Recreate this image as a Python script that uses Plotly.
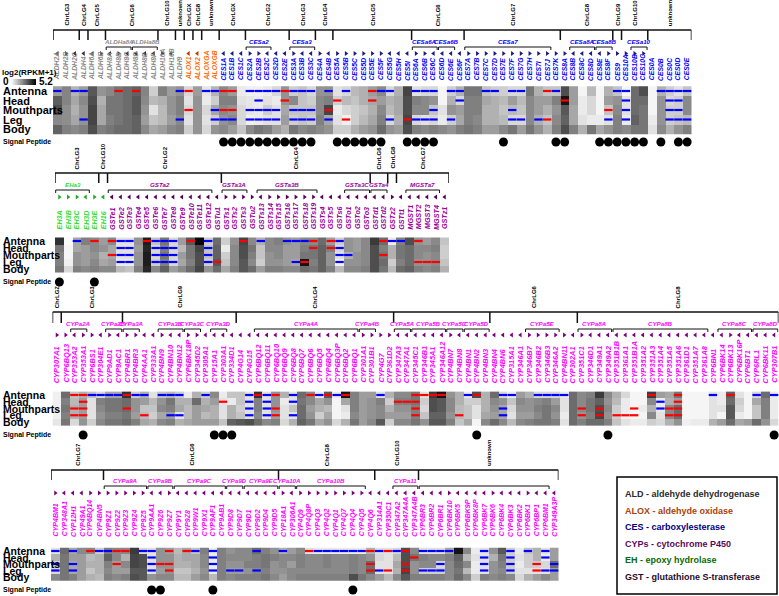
import plotly.graph_objects as go

W, H = 779, 596
ROWS = ["Antenna", "Head", "Mouthparts", "Leg", "Body"]
ZMAX = 5.2

# ---------------- Panel 1 : ALDH / ALOX / CES ----------------
P1_GENES = ["ALDH2A","ALDH2B","ALDH2C","ALDH4","ALDH6A","ALDH6B","ALDH8A","ALDH8B","ALDH8C","ALDH8D",
            "ALDH8E","ALDH8F","ALDH16A","ALDH16B","ALDH9","ALOX1","ALOX2","ALOXGA","ALOXGB",
            "CES1A","CES1B","CES1C","CES2A","CES2B","CES2C","CES2D","CES2E","CES3A","CES3B","CES3C",
            "CES4A","CES4B","CES5A","CES5B","CES5C","CES5D","CES5E","CES5F","CES5G","CES5H","CES5I",
            "CES6A","CES6B","CES6C","CES6D","CES6E","CES6F","CES7A","CES7B","CES7C","CES7D","CES7E",
            "CES7F","CES7G","CES7H","CES7I","CES7J","CES7K","CES8A","CES8B","CES8C","CES8D","CES8E",
            "CES8F","CES9","CES10A","CES10B","CES10C","CES0A","CES0B","CES0C","CES0D","CES0E"]
# per gene: Antenna, Head, Mouthparts, Leg, Body  (log2(RPKM+1))
P1_LEVELS = [
    [2.0,3.3,3.6,2.4,3.2],[2.5,2.5,2.3,2.3,2.6],[1.5,1.8,1.6,1.8,2.4],[2.0,2.4,2.2,2.2,2.6],
    [3.4,3.6,3.8,3.8,3.6],[2.2,1.6,1.8,1.8,2.6],[2.4,2.8,2.8,2.6,2.8],[2.8,2.8,2.8,2.8,3.0],
    [3.0,3.0,3.0,3.0,3.0],[3.2,3.4,3.4,3.2,3.2],[2.5,2.4,2.2,2.0,2.4],[1.0,1.4,0.6,1.2,1.8],
    [2.6,1.6,1.4,1.4,2.0],[2.0,2.2,2.2,2.0,2.4],[2.2,2.6,2.6,2.4,2.6],[0.8,0.6,0.8,0.6,1.0],
    [2.0,2.2,2.2,2.2,2.2],[0.5,0.4,0.8,0.6,0.8],[1.5,1.0,1.8,1.0,2.2],[2.4,2.6,2.4,2.2,2.4],
    [2.0,2.6,2.2,2.4,2.0],[0.4,0.6,0.8,0.8,1.2],[0.3,0.5,0.5,0.3,2.4],[0.3,0.4,0.4,0.4,2.8],
    [0.4,0.6,1.0,0.6,2.6],[0.8,0.4,0.6,0.6,2.0],[2.2,2.2,1.8,2.0,1.6],[1.0,2.4,1.2,1.0,2.8],
    [1.2,1.2,1.2,1.2,2.4],[0.8,1.0,1.2,1.0,2.6],[2.2,2.4,2.4,2.6,2.4],[2.2,2.6,3.8,1.8,2.2],
    [0.6,1.0,0.4,0.6,1.0],[0.8,1.4,0.8,0.3,1.0],[1.4,1.2,1.0,1.0,1.6],[1.6,1.6,1.2,1.4,2.0],
    [2.0,1.8,1.6,1.8,2.2],[2.4,2.0,2.4,2.6,3.0],[0.8,1.6,1.4,0.8,2.2],[1.6,1.8,1.8,1.6,2.0],
    [3.8,3.6,3.6,3.8,3.6],[0.6,2.6,2.4,0.8,2.6],[0.8,2.4,2.4,0.6,2.4],[0.8,2.2,1.2,0.8,2.6],
    [0.2,0.2,0.6,0.4,2.4],[1.0,1.6,2.2,1.0,2.2],[1.6,0.8,2.0,1.8,2.6],[2.8,2.6,2.6,2.6,2.8],
    [2.8,2.6,2.6,2.4,2.6],[1.2,1.8,1.6,1.6,2.0],[1.0,1.6,1.6,1.6,2.0],[1.0,1.4,1.2,1.4,2.4],
    [0.8,2.0,1.4,0.8,2.8],[0.8,1.4,1.2,0.8,2.0],[2.8,2.4,2.4,2.4,2.8],[1.6,2.0,2.0,1.6,2.2],
    [1.2,2.0,1.6,1.2,1.6],[1.2,2.6,2.2,2.4,2.6],[3.6,4.8,3.4,3.2,3.6],[2.0,2.0,1.8,1.8,2.6],
    [0.2,0.4,0.4,0.6,1.6],[1.4,0.8,0.8,0.4,2.8],[0.2,0.2,0.2,0.4,1.8],[1.6,2.0,1.2,0.6,2.2],
    [1.2,2.2,2.4,2.6,2.6],[0.2,0.6,0.6,0.4,2.4],[3.0,3.0,3.0,3.2,2.8],[3.6,3.0,2.8,2.8,2.8],
    [0.2,0.2,0.2,0.4,0.6],[1.6,2.2,2.2,2.2,2.4],[1.0,0.8,1.0,1.0,1.6],[0.6,1.0,1.0,1.2,2.2],
    [1.2,2.4,2.4,1.4,2.6]]
P1_RED = [[7,9,15,19,20,26,36,56],[26,32,36,58],[15,19,20,31,63],[33,40,56],[]]
P1_BLUE = [[0,2,3,14,17,18,22,23,24,25,27,28,29,31,33,37,38,41,42,43,45,46,49,50,52,53,57,64,65,69,70,71,72],
           [23,46,65,70,71],
           [18,22,23,24,25,27,28,29,43,52,65,70,71],
           [3,14,18,19,20,22,23,24,25,27,28,29,31,38,41,42,43,45,52,53,55,63,65,70,71,72],
           []]
P1_SIGNAL = [19,20,21,22,23,24,25,26,27,28,29,32,33,34,35,36,37,40,41,42,43,51,57,58,62,63,64,65,66,67,69,71,72]
P1_STRAND = ("<><<<><><<<<>< " "<<  " "<<<" ">><<<" "><<" "><" ">>>>>><<<" ">><<<<"
             ">>>>>>>>>>>" "><<<<>" ">" ">>>" "     ")
P1_CHROM = [(0,3,"ChrLG3"),(3,4,"ChrLG4"),(4,6,"ChrLG5"),(6,12,"ChrLG6"),(12,14,"ChrLG10"),
            (14,15,"unknown"),(15,16,"ChrLGX"),(16,17,"ChrLG8"),(17,19,"unknown"),(19,22,"ChrLGX"),
            (22,27,"ChrLG2"),(27,30,"ChrLG3"),(30,32,"ChrLG4"),(32,41,"ChrLG5"),(41,47,"ChrLG6"),
            (47,58,"ChrLG7"),(58,64,"ChrLG8"),(64,65,"ChrLG9"),(65,68,"ChrLG10"),(68,73,"unknown")]
P1_SUBFAM = [(6,8,"ALDHa8A"),(9,11,"ALDHa8B"),(22,24,"CESa2"),(27,29,"CESa3"),(41,43,"CESa6A"),
             (44,45,"CESa6B"),(47,56,"CESa7"),(59,61,"CESa8A"),(62,63,"CESa8B"),(66,67,"CESa10")]

# ---------------- Panel 2 : EH / GST ----------------
P2_GENES = ["EH3A","EH3B","EH3C","EH3D","EH3E","EH16","GSTe1","GSTe2","GSTe3","GSTe4","GSTe5","GSTe6",
            "GSTe7","GSTe8","GSTe9","GSTe10","GSTe11","GSTe12","GSTu1","GSTs1","GSTs2","GSTs3","GSTu2",
            "GSTs13","GSTs14","GSTs15","GSTs16","GSTs17","GSTs18","GSTs19","GSTs4","GSTs5","GSTs6",
            "GSTo1","GSTo2","GSTo3","GSTd1","GSTd2","GSTz2","GSTt1","MGST1","MGST2","MGST3","MGST4","GSTz1"]
P2_LEVELS = [
    [4.2,2.8,2.6,2.6,2.8],[0.1,0.2,0.2,0.3,0.8],[1.8,1.8,2.2,2.2,2.6],[2.6,2.0,2.0,2.0,2.4],
    [2.4,2.4,2.2,2.4,2.6],[2.0,2.2,1.6,1.8,2.4],[2.4,1.8,1.8,2.0,2.4],[0.6,0.6,0.6,0.4,1.4],
    [0.6,0.6,0.6,0.4,1.2],[2.2,2.0,2.2,2.2,2.6],[4.6,4.4,4.6,4.6,4.4],[1.2,0.8,0.8,1.0,2.4],
    [2.8,2.6,2.8,2.6,3.2],[0.8,0.8,0.8,0.8,2.0],[2.0,1.4,2.0,1.8,2.4],[3.4,2.8,2.8,2.6,3.0],
    [5.0,3.8,3.6,3.6,3.8],[1.0,1.2,1.2,1.0,2.2],[3.0,3.2,3.2,3.4,3.0],[1.0,0.4,1.0,1.2,1.8],
    [2.2,2.4,2.4,2.4,2.6],[3.8,3.6,3.6,3.4,3.4],[2.4,2.8,2.6,2.4,3.0],[1.6,1.2,1.2,1.0,2.0],
    [2.4,2.4,2.2,2.2,2.6],[2.6,2.4,2.4,2.2,2.6],[2.2,2.0,2.0,2.0,2.4],[2.0,2.0,2.0,1.8,2.4],
    [2.4,2.6,2.8,4.8,3.0],[2.4,2.8,2.8,2.6,2.8],[3.0,3.2,3.2,3.2,3.2],[2.0,2.6,2.2,2.2,2.6],
    [1.0,0.8,0.6,0.3,1.4],[2.2,2.2,1.6,2.2,2.4],[2.0,2.0,2.2,2.2,2.4],[2.4,2.4,2.4,2.4,2.6],
    [4.0,3.6,3.6,3.6,3.6],[3.0,2.6,2.8,3.0,2.8],[0.4,1.6,1.6,1.0,1.4],[2.6,2.8,2.8,2.6,3.0],
    [3.6,3.0,3.0,3.0,3.2],[2.2,2.4,2.4,2.2,2.6],[2.0,2.4,2.2,2.2,2.4],[2.4,2.6,2.4,2.4,2.6],
    [1.2,1.0,1.0,1.2,1.6]]
P2_RED = [[4,6,10,15,21,29,31,37,41],[29,31],[6,37],[18,28,41,42,43],[]]
P2_BLUE = [[2,7,8,11,12,13,17,23,26,27,28,32,38,39],[7,8,11,12,13,17,32],
           [7,8,11,12,13,17,32,33],[7,8,11,12,13,17,27,32],[]]
P2_SIGNAL = [0, 4]
P2_STRAND = (">>><><" "<<<<<<<<<<<<" "<" ">>>" ">" "<>>>>>>" "<<<" "<<<" "<<" ">" "<" "<<<<" "<")
P2_CHROM = [(0,5,"ChrLG3"),(5,6,"ChrLG10"),(6,19,"ChrLG2"),(19,36,"ChrLG4"),(36,38,"ChrLG6"),
            (38,39,"ChrLG8"),(39,45,"ChrLG7")]
P2_SUBFAM = [(0,3,"EHa3"),(6,17,"GSTa2"),(19,21,"GSTa3A"),(23,29,"GSTa3B"),(33,35,"GSTa3C"),
             (36,37,"GSTa4"),(40,43,"MGSTa7")]

# ---------------- Panel 3 : CYP (part 1) ----------------
P3_GENES = ["CYP307A1","CYP6BQ13","CYP353A2","CYP353A1","CYP6BS1","CYP304E1","CYP9AD1","CYP9AC1",
            "CYP4BR1","CYP4BR3","CYP4AA1","CYP333A1","CYP4BN9","CYP4BN10","CYP4BN12","CYP6BK18P",
            "CYP345D2","CYP305A1","CYP15A1","CYP303A1","CYP334D1","CYP4G14","CYP4G15","CYP6BQ12",
            "CYP6BQ11","CYP6BQ10","CYP6BQ9","CYP6BQ8","CYP6BQ7","CYP6BQ6","CYP6BQ5","CYP6BQ4",
            "CYP6BQ3P","CYP6BQ2","CYP6BQ1","CYP301A1","CYP301B1","CYP4G7","CYP361D2","CYP347A3",
            "CYP347A1","CYP345C1","CYP346B1","CYP345A1","CYP346A12","CYP4BN7","CYP4BN8","CYP4BN1",
            "CYP4BN2","CYP4BN3","CYP4BN4","CYP4BN6","CYP315A1","CYP346A1","CYP346B7","CYP346B2",
            "CYP346B3","CYP346A2","CYP4BN11","CYP302A1","CYP351C1","CYP346D1","CYP349A1","CYP349A2",
            "CYP351B1B","CYP361A1","CYP351B1A","CYP351A2","CYP351A3","CYP351A4","CYP351A5","CYP351A6",
            "CYP361D1","CYP351A7","CYP361A8","CYP6BN1","CYP6BK14","CYP6BK13","CYP6BK16P","CYP6BT1",
            "CYP6RL1","CYP6BK11","CYP307B1"]
P3_LEVELS = [
    [0.3,0.3,0.3,0.3,0.5],[3.0,2.6,2.8,2.6,2.8],[1.2,1.4,1.6,1.6,0.8],[1.6,2.0,2.0,2.0,2.2],
    [1.2,0.6,0.6,0.6,1.0],[0.8,2.6,2.4,2.2,2.4],[1.8,2.8,2.8,2.6,2.8],[1.8,2.8,2.8,2.6,2.8],
    [4.2,3.0,3.0,2.8,3.0],[1.0,2.2,2.2,2.0,2.6],[1.6,2.0,1.2,1.4,1.8],[0.6,1.4,1.2,1.0,1.6],
    [1.2,2.2,2.4,1.8,2.4],[1.4,2.8,2.6,2.0,2.6],[1.0,1.6,1.8,0.6,1.6],[0.4,1.6,1.4,1.4,1.8],
    [1.6,3.0,2.0,2.0,2.0],[1.0,1.6,1.8,1.4,2.0],[2.4,2.0,1.6,1.6,2.0],[0.4,0.6,0.6,0.6,1.2],
    [1.2,0.4,1.6,1.6,3.2],[1.2,1.2,1.0,1.2,3.4],[0.6,0.6,0.6,0.6,3.6],[4.2,2.6,2.6,2.4,3.0],
    [0.6,0.6,0.6,0.6,2.4],[2.2,2.2,2.2,2.0,2.6],[1.6,0.4,0.6,0.6,0.8],[0.6,0.6,1.2,0.6,1.6],
    [3.0,2.8,3.0,3.0,3.2],[2.4,2.4,2.0,2.2,2.8],[0.4,1.8,1.6,1.0,1.8],[3.4,2.2,1.4,1.8,2.2],
    [0.4,0.2,0.2,0.2,0.8],[4.8,1.8,0.6,0.4,1.6],[2.6,2.6,2.6,2.4,2.8],[2.0,2.0,2.0,2.0,2.0],
    [2.0,2.2,2.2,2.2,2.4],[0.6,2.6,2.4,2.4,3.4],[1.6,1.0,1.6,2.0,1.0],[2.4,2.6,2.2,2.0,2.4],
    [2.4,2.6,2.2,2.0,2.4],[2.8,2.8,2.6,2.6,2.8],[0.6,1.0,0.8,1.2,2.2],[4.0,3.6,3.6,3.2,3.4],
    [4.8,3.4,3.4,3.2,3.4],[2.2,2.4,2.4,2.2,2.6],[1.6,1.6,1.4,1.4,1.2],[0.4,1.0,1.2,1.2,1.8],
    [3.6,1.0,0.6,0.6,0.2],[1.6,1.6,1.6,1.8,2.4],[3.0,2.4,2.2,2.0,3.0],[0.8,2.2,1.8,1.8,2.4],
    [0.4,1.2,0.8,0.6,1.4],[2.0,2.4,2.2,2.0,2.4],[1.6,2.2,2.2,2.0,2.6],[0.8,2.4,2.6,2.4,2.8],
    [0.8,2.6,2.8,2.8,2.8],[0.8,2.0,2.4,2.2,2.6],[0.4,0.6,0.6,0.4,0.6],[3.0,3.0,3.0,3.0,3.0],
    [2.4,2.4,2.4,2.2,2.6],[2.6,2.8,2.8,2.6,3.0],[4.0,3.2,3.6,3.8,3.0],[2.4,2.2,2.4,2.2,2.6],
    [1.6,1.4,1.0,1.0,1.2],[0.8,0.4,0.4,0.3,0.6],[0.2,0.2,0.2,0.2,0.4],[0.2,0.2,0.4,0.2,0.4],
    [4.0,2.4,1.6,2.4,1.0],[2.0,0.4,0.4,0.6,0.8],[1.8,1.6,2.4,2.4,1.6],[2.8,2.0,3.0,3.0,2.2],
    [0.2,0.2,0.2,0.2,0.3],[0.2,0.2,0.2,0.2,0.4],[0.2,0.2,0.2,0.2,0.4],[0.6,0.6,0.6,0.6,1.6],
    [0.4,0.4,0.6,0.2,2.0],[3.2,3.0,3.4,3.4,3.0],[0.6,1.0,0.8,0.4,1.8],[0.2,0.2,0.2,0.2,2.0],
    [0.8,1.8,1.2,1.2,3.0],[3.0,2.6,2.6,2.6,2.2],[0.4,0.4,0.4,0.4,0.8]]
P3_RED = [[2,3,8,23,25,29,31,33,41,42,43,44,48,68,71,77],[3,19,39,40,41,71],
          [2,3,8,25,41,60,62,66,70,71],[2,3,10,25,41,46,60,62,64,65,66,70,71],[]]
P3_BLUE = [[4,5,6,7,9,10,12,13,14,17,22,24,27,30,32,37,47,51,52,55,56,57,58,75,80,82],
           [22,24,27,69],[22,24,51,69],[13,14,22,24,27,51],[]]
P3_SIGNAL = [3,18,19,20,48,63,82]
P3_STRAND = (">><>><><>><<><<>><<<<<<" "<<<<<<<<<<<<" ">>>>" "<<<<<<" ">" "<<<<<<" "<<" ">>>>>"
             "<" ">" "<<<<<<<<<<<<<<" "<<" ">" "<<<<<")
P3_CHROM = [(0,1,"ChrLGZ"),(1,8,"ChrLG3"),(8,21,"ChrLG9"),(21,39,"ChrLG4"),(39,50,""),
            (50,60,"ChrLG6"),(60,83,"ChrLG8")]
P3_SUBFAM = [(2,3,"CYPa2A"),(6,7,"CYPa2B"),(8,9,"CYPa3A"),(12,14,"CYPa3B"),(15,16,"CYPa3C"),
             (18,19,"CYPa3D"),(23,34,"CYPa4A"),(35,36,"CYPa4B"),(39,40,"CYPa5A"),(41,44,"CYPa5B"),
             (45,46,"CYPa5C"),(47,49,"CYPa5D"),(54,57,"CYPa5E"),(60,63,"CYPa8A"),(64,74,"CYPa8B"),
             (76,79,"CYPa8C"),(80,82,"CYPa8D")]

# ---------------- Panel 4 : CYP (part 2) ----------------
P4_GENES = ["CYP4BM1","CYP348A1","CYP12H1","CYP49A1","CYP6BQ14","CYP4BN5","CYP9Z1","CYP9Z2","CYP9Z3",
            "CYP9Z4","CYP9Z5","CYP9AA1","CYP9Z6","CYP9Z7","CYP9Y1","CYP9Z8","CYP9W1","CYP9X1","CYP9AF1",
            "CYP9AB1","CYP9D8","CYP9D7","CYP9D1","CYP9D2","CYP9D4","CYP9D5","CYP18A1","CYP306A1",
            "CYP4Q9","CYP4Q8P","CYP4Q3","CYP4Q2","CYP4Q1","CYP4Q7","CYP4Q4","CYP4Q5","CYP4Q6",
            "CYP314A1","CYP350C1","CYP347A2","CYP347A4A","CYP347A4B","CYP6BR3","CYP6BR2","CYP6BR1",
            "CYP6BK10","CYP6BK5","CYP6BK9P","CYP6BK8P","CYP6BK7","CYP6BK6","CYP6BK4","CYP6BK3",
            "CYP6BK2","CYP6BK1","CYP6BP1","CYP6BM1","CYP349A3P"]
P4_LEVELS = [
    [0.6,1.6,1.0,0.8,2.4],[3.0,2.8,2.8,2.8,2.8],[1.8,2.0,1.8,1.8,2.6],[2.4,2.0,2.0,2.0,2.0],
    [2.4,1.4,1.6,1.2,1.6],[1.0,1.6,1.6,1.6,1.4],[2.6,3.2,2.6,2.4,2.6],[2.4,2.4,2.0,2.0,2.4],
    [2.4,1.6,2.4,2.0,2.6],[4.0,3.8,3.8,3.4,3.6],[0.8,3.6,3.6,3.4,3.4],[0.6,0.6,0.6,0.6,2.2],
    [2.2,2.2,2.2,2.0,2.4],[2.0,2.2,2.2,2.2,2.4],[1.4,1.6,1.6,1.2,1.4],[1.8,1.8,1.6,1.2,1.4],
    [1.2,1.8,1.8,1.6,2.0],[2.6,2.4,2.4,2.2,2.4],[0.4,0.4,0.4,0.4,1.4],[2.6,2.6,2.6,2.6,2.6],
    [2.2,2.4,2.2,2.0,2.4],[2.4,2.4,2.2,2.0,2.6],[2.4,2.4,2.6,2.2,2.6],[3.0,2.6,2.6,2.4,2.6],
    [2.6,2.8,2.8,2.6,2.8],[2.2,2.6,2.2,2.2,2.4],[1.6,2.4,2.4,2.2,2.0],[2.0,2.4,2.0,2.4,2.4],
    [2.4,2.6,2.6,2.4,2.6],[0.6,2.4,2.4,2.4,2.6],[0.4,2.4,2.4,2.4,2.6],[0.4,2.6,2.6,2.4,2.6],
    [0.4,2.4,2.4,2.4,2.6],[0.4,2.4,2.4,2.4,2.6],[0.4,2.6,2.6,2.6,3.6],[0.4,2.4,2.4,2.4,2.8],
    [1.6,2.2,3.0,3.0,2.4],[0.6,0.8,0.6,0.6,2.0],[0.6,0.6,0.6,0.6,1.4],[0.8,1.4,1.8,1.6,2.4],
    [3.6,3.6,3.6,3.8,3.4],[2.4,2.8,2.2,2.2,2.6],[0.6,2.6,2.4,1.0,2.6],[0.6,2.4,2.4,1.0,2.6],
    [0.6,2.4,0.8,1.0,2.6],[1.8,2.6,2.4,2.4,2.4],[4.8,3.2,3.0,2.8,3.0],[2.4,1.4,2.4,1.4,2.4],
    [0.4,0.6,0.4,0.4,1.0],[0.6,0.6,0.6,0.6,2.6],[2.2,1.6,2.2,2.2,2.4],[3.4,2.8,2.6,2.4,2.6],
    [1.0,1.0,1.0,1.0,2.4],[0.4,0.6,0.4,0.6,0.8],[1.2,1.0,1.0,0.6,1.6],[1.6,1.6,1.0,0.6,2.0],
    [0.6,0.4,0.8,0.6,2.4],[2.0,2.0,3.0,2.0,2.0]]
P4_RED = [[4,7,8,13,15,29,36,38,40],[41],[7,12,13,36,40,55],[13,36,38,40,55],[]]
P4_BLUE = [[0,2,5,6,10,11,16,18,23,26,30,31,32,33,34,35,37,39,42,43,44,45,49,52,54,56],
           [11,18,49,52,56],[0,2,11,18,44,49,52,57],
           [0,2,11,18,20,21,23,37,42,43,44,49,52,56,57],[]]
P4_SIGNAL = [11,12,18,34]
P4_STRAND = (">" "<<<" ">>" ">>>>>" "<<" ">" "<<<<<<<<<" "<<<" ">" "<" ">>>>>>>>" "<<<<<<<<<"
             ">" "<<<<" ">" "<<<" ">" "<<<")
P4_CHROM = [(0,6,"ChrLG7"),(6,26,"ChrLG6"),(26,37,"ChrLG8"),(37,42,"ChrLG10"),(42,58,"unknown")]
P4_SUBFAM = [(6,10,"CYPa9A"),(11,13,"CYPa9B"),(14,19,"CYPa9C"),(20,21,"CYPa9D"),(22,25,"CYPa9E"),
             (26,27,"CYPa10A"),(28,35,"CYPa10B"),(39,41,"CYPa11"),(42,56,"")]

LEGEND_ITEMS = [("ALD", "aldehyde dehydrogenase", "#2b2b2b"),
                ("ALOX", "aldehyde oxidase", "#a8420c"),
                ("CES", "carboxylesterase", "#000080"),
                ("CYPs", "cytochrome P450", "#5a0a5a"),
                ("EH", "epoxy hydrolase", "#0a6a0a"),
                ("GST", "glutathione S-transferase", "#2a0a2a")]

# ---------------- styling / layout constants (pixels) ----------------
FAM_COLOR = {"ALDH": "#8a8a8a", "ALOX": "#ff6a00", "CES": "#0000ff", "EH": "#33dd33",
             "GST": "#990099", "CYP": "#ff00ff"}
ARROW_COLOR = {"ALDH": "#333333", "ALOX": "#cc3300", "CES": "#1a1a80", "EH": "#22aa22",
               "GST": "#550055", "CYP": "#7a007a"}
FONT = "Liberation Sans, Arial, sans-serif"

PANELS = [
    dict(genes=P1_GENES, levels=P1_LEVELS, red=P1_RED, blue=P1_BLUE, sp=P1_SIGNAL, strand=P1_STRAND,
         chrom=P1_CHROM, sub=P1_SUBFAM, x0=53, x1=691.5, line=30, tick=40, brk=47, arrow=53.5,
         lab=82.5, top=83, bot=137, spy=142, lsize=6.8, rsize=11),
    dict(genes=P2_GENES, levels=P2_LEVELS, red=P2_RED, blue=P2_BLUE, sp=P2_SIGNAL, strand=P2_STRAND,
         chrom=P2_CHROM, sub=P2_SUBFAM, x0=55, x1=449, line=173, tick=183, brk=190, arrow=197,
         lab=231.5, top=233, bot=277, spy=282, lsize=7.2, rsize=10.5),
    dict(genes=P3_GENES, levels=P3_LEVELS, red=P3_RED, blue=P3_BLUE, sp=P3_SIGNAL, strand=P3_STRAND,
         chrom=P3_CHROM, sub=P3_SUBFAM, x0=52.5, x1=778.5, line=312, tick=323, brk=329, arrow=335,
         lab=385, top=387, bot=430, spy=435, lsize=7.4, rsize=10.5),
    dict(genes=P4_GENES, levels=P4_LEVELS, red=P4_RED, blue=P4_BLUE, sp=P4_SIGNAL, strand=P4_STRAND,
         chrom=P4_CHROM, sub=P4_SUBFAM, x0=51, x1=558.5, line=470, tick=480, brk=486, arrow=493,
         lab=538.5, top=543, bot=585, spy=590, lsize=7.0, rsize=10.5),
]


def fx(px):
    return px / W


def fy(py):
    return 1 - py / H


def family(name):
    for key in ("ALDH", "ALOX", "CES", "EH", "CYP"):
        if name.startswith(key):
            return key
    return "GST"


fig = go.Figure()
shapes, annos = [], []
layout = {}

for p, P in enumerate(PANELS, start=1):
    xa = "x" if p == 1 else f"x{p}"
    ya = "y" if p == 1 else f"y{p}"
    yo = f"y{p + 4}"
    genes = P["genes"]
    n = len(genes)
    idx = list(range(n))
    z = [[P["levels"][g][r] for g in idx] for r in range(5)]

    hm = dict(z=z, x=idx, y=ROWS, colorscale=[[0, "#ffffff"], [1, "#000000"]], zmin=0, zmax=ZMAX,
              xaxis=xa, yaxis=ya, hoverinfo="skip", showscale=(p == 1))
    if p == 1:
        hm["colorbar"] = dict(orientation="h", x=fx(11), xanchor="left", y=fy(79), yanchor="top",
                              len=25, lenmode="pixels", thickness=6, thicknessmode="pixels",
                              showticklabels=False, ticks="", outlinewidth=0, xpad=0, ypad=0)
    fig.add_trace(go.Heatmap(**hm))

    # expression-change marks
    for marks, col in ((P["red"], "#ff0000"), (P["blue"], "#0000ff")):
        xs, ys = [], []
        for r, lst in enumerate(marks):
            for g in lst:
                xs.append(g)
                ys.append(ROWS[r])
        fig.add_trace(go.Scatter(x=xs, y=ys, mode="markers", xaxis=xa, yaxis=ya, hoverinfo="skip",
                                 marker=dict(symbol="line-ew", size=6, line=dict(width=2.2, color=col)),
                                 showlegend=False, cliponaxis=False))

    # strand arrows
    strand = (P["strand"] + " " * n)[:n]
    ax, ay, asym, acol = [], [], [], []
    for g, s in enumerate(strand):
        if s in "<>":
            ax.append(g)
            ay.append(P["arrow"])
            asym.append("triangle-right" if s == ">" else "triangle-left")
            acol.append(ARROW_COLOR[family(genes[g])])
    fig.add_trace(go.Scatter(x=ax, y=ay, mode="markers", xaxis=xa, yaxis=yo, hoverinfo="skip",
                             marker=dict(symbol=asym, size=4.5, color=acol, line=dict(width=0)),
                             showlegend=False, cliponaxis=False))
    # signal peptides
    fig.add_trace(go.Scatter(x=P["sp"], y=[P["spy"]] * len(P["sp"]), mode="markers", xaxis=xa,
                             yaxis=yo, hoverinfo="skip", showlegend=False, cliponaxis=False,
                             marker=dict(symbol="circle", size=9, color="#000000")))

    layout["xaxis" if p == 1 else f"xaxis{p}"] = dict(
        domain=[fx(P["x0"]), fx(P["x1"])], range=[-0.5, n - 0.5], anchor=ya, visible=False,
        fixedrange=True)
    layout["yaxis" if p == 1 else f"yaxis{p}"] = dict(
        domain=[fy(P["bot"]), fy(P["top"])], anchor=xa, autorange="reversed", visible=False,
        fixedrange=True)
    layout[f"yaxis{p + 4}"] = dict(domain=[0, 1], range=[H, 0], anchor=xa, visible=False,
                                   fixedrange=True)

    # chromosome line + ticks + labels
    shapes.append(dict(type="line", xref=xa, yref="paper", x0=-0.5, x1=n - 0.5,
                       y0=fy(P["line"]), y1=fy(P["line"]), line=dict(color="#111111", width=1.5)))
    bounds = sorted({s for s, e, _ in P["chrom"]} | {e for s, e, _ in P["chrom"]})
    for b in bounds:
        shapes.append(dict(type="line", xref=xa, yref="paper", x0=b - 0.5, x1=b - 0.5,
                           y0=fy(P["line"]), y1=fy(P["tick"]), line=dict(color="#111111", width=1.5)))
    for s, e, lab in P["chrom"]:
        if lab:
            annos.append(dict(x=(s + e - 1) / 2, y=fy(P["line"] - 2), xref=xa, yref="paper",
                              text=f"<b>{lab}</b>", textangle=-90, showarrow=False,
                              xanchor="center", yanchor="bottom",
                              font=dict(size=6, color="#000000", family=FONT)))
    # sub-family brackets
    for s, e, lab in P["sub"]:
        a, b = s - 0.42, e + 0.42
        yb, yb2 = fy(P["brk"]), fy(P["brk"] + 3)
        shapes.append(dict(type="path", xref=xa, yref="paper",
                           path=f"M {a},{yb2} L {a},{yb} L {b},{yb} L {b},{yb2}",
                           line=dict(color="#111111", width=1)))
        if lab:
            annos.append(dict(x=(s + e) / 2, y=fy(P["brk"] - 0.3), xref=xa, yref="paper",
                              text=f"<b><i>{lab}</i></b>", showarrow=False, xanchor="center",
                              yanchor="bottom",
                              font=dict(size=6.2, color=FAM_COLOR[family(lab.lstrip('M'))],
                                        family=FONT)))
    # gene labels
    for g, name in enumerate(genes):
        annos.append(dict(x=g, y=fy(P["lab"]), xref=xa, yref="paper", text=f"<b><i>{name}</i></b>",
                          textangle=-90, showarrow=False, xanchor="center", yanchor="bottom",
                          font=dict(size=P["lsize"], color=FAM_COLOR[family(name)], family=FONT)))
    # row labels
    for r, name in enumerate(ROWS):
        annos.append(dict(x=fx(1), y=r, xref="paper", yref=ya, text=f"<b>{name}</b>",
                          showarrow=False, xanchor="left", yanchor="middle",
                          font=dict(size=P["rsize"], color="#000000", family=FONT)))
    annos.append(dict(x=fx(1), y=fy(P["spy"]), xref="paper", yref="paper",
                      text="<b>Signal Peptide</b>", showarrow=False, xanchor="left",
                      yanchor="middle", font=dict(size=7, color="#000000", family=FONT)))

# colour-scale caption
annos.append(dict(x=fx(0), y=fy(73), xref="paper", yref="paper", text="<b>log2(RPKM+1)</b>",
                  showarrow=False, xanchor="left", yanchor="middle",
                  font=dict(size=8, color="#000000", family=FONT)))
annos.append(dict(x=fx(1), y=fy(82), xref="paper", yref="paper", text="<b>0</b>",
                  showarrow=False, xanchor="left", yanchor="middle",
                  font=dict(size=10, color="#000000", family=FONT)))
annos.append(dict(x=fx(37), y=fy(82), xref="paper", yref="paper", text=f"<b>{ZMAX}</b>",
                  showarrow=False, xanchor="left", yanchor="middle",
                  font=dict(size=10, color="#000000", family=FONT)))

# family legend box
shapes.append(dict(type="rect", xref="paper", yref="paper", x0=fx(617), x1=fx(777),
                   y0=fy(594), y1=fy(477), line=dict(color="#000000", width=1.5)))
for k, (abbr, desc, col) in enumerate(LEGEND_ITEMS):
    annos.append(dict(x=fx(623), y=fy(494 + k * 16.6), xref="paper", yref="paper",
                      text=f"<b>{abbr} - {desc}</b>", showarrow=False, xanchor="left",
                      yanchor="middle", font=dict(size=9, color=col, family=FONT)))

fig.update_layout(width=W, height=H, margin=dict(l=0, r=0, t=0, b=0), paper_bgcolor="#ffffff",
                  plot_bgcolor="rgba(0,0,0,0)", showlegend=False, shapes=shapes, annotations=annos,
                  font=dict(family=FONT), **layout)
fig.write_html("out.html", config={"displayModeBar": False},
               post_script="document.body.style.margin='0px';document.body.style.overflow='hidden';")
